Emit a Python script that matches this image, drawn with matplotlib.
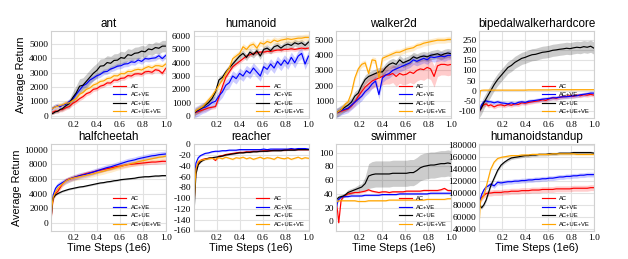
import matplotlib
matplotlib.use("Agg")
import matplotlib.pyplot as plt
import numpy as np

# ---------------- data ----------------
X = [0.0, 0.01, 0.02, 0.04, 0.06, 0.08, 0.10, 0.13, 0.16, 0.19, 0.22, 0.25, 0.28, 0.31,
     0.34, 0.37, 0.40, 0.43, 0.46, 0.49, 0.52, 0.55, 0.58, 0.61, 0.64, 0.67, 0.70, 0.73,
     0.76, 0.79, 0.82, 0.85, 0.88, 0.91, 0.94, 0.97, 1.00]

LABELS = ["AC", "AC+VE", "AC+UE", "AC+UE+VE"]
TITLES = ["ant", "humanoid", "walker2d", "bipedalwalkerhardcore",
          "halfcheetah", "reacher", "swimmer", "humanoidstandup"]

# ant
ANT_AC = [200, 230, 240, 320, 310, 400, 410, 540, 630, 850, 980, 1180, 1320, 1530, 1620, 1830, 1880, 2050, 2120,
          2280, 2270, 2480, 2470, 2600, 2620, 2790, 2760, 2900, 2920, 2880, 3050, 3080, 3020, 3200, 3150, 2950, 3300]
ANT_VE = [380, 450, 540, 620, 680, 600, 720, 780, 980, 1120, 1480, 1780, 2080, 2220, 2480, 2620, 2780, 2870, 3050,
          3080, 3250, 3330, 3450, 3480, 3600, 3620, 3750, 3720, 3880, 3780, 3980, 3950, 4000, 4030, 4180, 3980, 4200]
ANT_UE = [100, 130, 160, 260, 300, 420, 480, 680, 830, 1250, 1580, 2050, 2120, 2400, 2680, 2950, 3150, 3450, 3480,
          3700, 3650, 3850, 3870, 4050, 4000, 4250, 4200, 4350, 4380, 4500, 4450, 4650, 4600, 4750, 4700, 4850, 4850]
ANT_UEVE = [450, 490, 510, 620, 640, 720, 740, 870, 880, 1050, 1180, 1480, 1620, 1830, 1930, 2130, 2220, 2380, 2420,
            2580, 2620, 2780, 2770, 2930, 2920, 3080, 3070, 3180, 3230, 3180, 3320, 3420, 3330, 3480, 3480, 3420, 3600]
ANT_SD = [150,
          200,
          [50, 50, 60, 80, 100, 120, 150, 200, 300, 400, 500, 520, 520, 520, 520, 500, 500, 500, 500, 480, 480, 460,
           460, 440, 440, 420, 420, 420, 420, 400, 400, 400, 400, 400, 400, 400, 400],
          200]

# humanoid
HUM_AC = [200, 230, 260, 320, 380, 450, 500, 600, 650, 700, 1400, 2200, 2900, 3300, 3700, 3900, 4100, 4300, 4500,
          4600, 4700, 4750, 4800, 4800, 4850, 4850, 4900, 4950, 4950, 5000, 5000, 5050, 5000, 5050, 5100, 5050, 5100]
HUM_VE = [200, 250, 300, 400, 500, 600, 650, 800, 1000, 1100, 1500, 1800, 2300, 2500, 3000, 2800, 3200, 3000, 3400,
          3200, 3600, 3300, 3000, 3700, 3500, 3900, 3600, 4100, 3800, 4200, 3900, 4400, 4000, 4500, 4700, 3900, 4500]
HUM_UE = [200, 250, 350, 450, 550, 650, 800, 1000, 1300, 1800, 2700, 2900, 3300, 3600, 3900, 4200, 4500, 4700, 4400,
          4800, 4600, 4900, 4500, 5000, 5100, 4900, 5200, 5300, 5100, 5300, 5400, 5300, 5500, 5400, 5500, 5300, 5550]
HUM_UEVE = [200, 300, 400, 500, 600, 700, 900, 1200, 1500, 1900, 2300, 2700, 3200, 3600, 4300, 4500, 4700, 5200,
            5000, 5300, 5400, 5100, 5500, 5400, 5600, 5500, 5700, 5600, 5700, 5750, 5800, 5750, 5800, 5850, 5850,
            5900, 5900]
HUM_SD = [150, 400, 250, 250]

# walker2d
WAL_AC = [200, 220, 250, 300, 350, 400, 450, 650, 900, 1300, 1600, 1900, 2100, 2300, 2400, 2500, 2600, 2700, 2700,
          2800, 2600, 2800, 2700, 2750, 2900, 2800, 3000, 3100, 3050, 3200, 3100, 2600, 3300, 3400, 3400, 3350, 3400]
WAL_VE = [200, 220, 250, 350, 400, 450, 500, 700, 900, 1100, 1300, 1600, 1800, 2100, 2300, 1400, 2500, 2700, 2800,
          3000, 3100, 3200, 3300, 3400, 3500, 3700, 3600, 3700, 3800, 3700, 3900, 3850, 3900, 3950, 3900, 4000, 4000]
WAL_UE = [200, 250, 300, 400, 500, 600, 700, 900, 1300, 1500, 2000, 2400, 2600, 2700, 2800, 2900, 2900, 3200, 3400,
          3500, 3400, 3700, 3500, 3600, 3700, 3900, 3800, 3900, 3950, 3900, 4000, 4050, 4100, 4000, 4100, 4150, 4100]
WAL_UEVE = [200, 250, 300, 400, 600, 800, 900, 1500, 2500, 3100, 3400, 3500, 2800, 3700, 3650, 2500, 3800, 3900,
            4000, 4100, 4200, 4200, 4300, 4400, 4450, 4500, 4650, 4700, 4800, 4850, 4900, 4950, 5000, 5000, 5000,
            5050, 5050]
WAL_SD = [[50, 50, 60, 80, 100, 120, 150, 200, 250, 300, 350, 400, 450, 500, 500, 550, 550, 600, 600, 600, 650, 650,
           650, 650, 700, 700, 700, 700, 700, 700, 700, 700, 700, 700, 700, 700, 700],
          300, 300, 200]

# bipedalwalkerhardcore
BIP_AC = [-100, -90, -80, -70, -65, -75, -70, -80, -72, -70, -75, -68, -72, -65, -68, -60, -62, -58, -55, -52, -50,
          -45, -48, -40, -35, -38, -32, -30, -28, -25, -28, -22, -25, -20, -22, -18, -22]
BIP_VE = [-100, -85, -70, -55, -50, -55, -55, -60, -55, -60, -62, -65, -60, -65, -58, -55, -58, -52, -50, -48, -45,
          -42, -40, -38, -35, -35, -32, -30, -30, -28, -25, -25, -20, -18, -15, -12, -12]
BIP_UE = [-100, -95, -85, -60, -40, -20, 0, 30, 55, 75, 95, 115, 125, 140, 150, 160, 165, 172, 178, 180, 185, 190,
          192, 195, 200, 202, 205, 207, 210, 208, 212, 215, 213, 218, 215, 220, 210]
BIP_UEVE = [-50, 0, 2, 3, 3, 3, 3, 3, 3, 3, 3, 3, 3, 3, 3, 3, 3, 4, 4, 4, 4, 4, 4, 4, 5, 5, 5, 5, 5, 5, 5, 5, 5, 5,
            5, 5, 5]
BIP_SD = [10, 10, 30, 3]

# halfcheetah
HC_AC = [0, 2000, 3300, 4000, 4300, 4800, 5300, 5800, 6000, 6150, 6300, 6450, 6600, 6750, 6850, 6950, 7100, 7200,
         7300, 7400, 7500, 7600, 7700, 7750, 7850, 7950, 8000, 8050, 8100, 8150, 8200, 8250, 8300, 8300, 8350, 8400,
         8400]
HC_VE = [0, 2500, 3800, 4700, 5100, 5300, 5500, 5750, 5950, 6150, 6300, 6450, 6550, 6650, 6800, 6950, 7100, 7250,
         7400, 7550, 7650, 7800, 7950, 8100, 8250, 8400, 8500, 8600, 8750, 8850, 8950, 9050, 9150, 9200, 9300, 9350,
         9400]
HC_UE = [0, 2500, 3400, 3800, 4000, 4150, 4300, 4450, 4600, 4700, 4800, 4900, 4950, 5050, 5150, 5250, 5350, 5450,
         5500, 5600, 5650, 5750, 5800, 5900, 5950, 6000, 6050, 6100, 6200, 6250, 6300, 6300, 6350, 6400, 6400, 6450,
         6450]
HC_UEVE = [0, 2300, 3500, 4200, 4700, 5000, 5300, 5700, 5950, 6100, 6200, 6300, 6400, 6500, 6600, 6700, 6850, 6950,
           7050, 7200, 7300, 7450, 7600, 7700, 7850, 7950, 8100, 8200, 8350, 8450, 8550, 8650, 8750, 8850, 8950,
           9000, 9100]
HC_SD = [300, 400, 100, 400]

# reacher
RE_AC = [-140, -80, -50, -35, -30, -28, -27, -26, -25, -30, -22, -21, -19, -18, -17, -16, -15, -15, -14, -14, -13,
         -13, -13, -12, -12, -12, -11, -11, -11, -11, -10, -10, -10, -10, -10, -10, -10]
RE_VE = [-120, -60, -35, -25, -21, -19, -17, -16, -14, -13, -13, -12, -12, -11, -11, -11, -10, -10, -10, -10, -10,
         -10, -10, -9, -10, -9, -9, -9, -9, -9, -9, -8, -9, -8, -8, -8, -9]
RE_UE = [-150, -95, -55, -38, -33, -30, -28, -26, -25, -24, -23, -22, -20, -19, -18, -17, -16, -16, -15, -15, -14,
         -14, -13, -13, -13, -12, -12, -12, -12, -11, -11, -11, -11, -10, -10, -10, -10]
RE_UEVE = [-140, -80, -45, -32, -30, -29, -28, -27, -26, -28, -25, -27, -24, -26, -28, -25, -26, -24, -27, -25, -28,
           -26, -24, -27, -25, -26, -28, -24, -26, -27, -25, -28, -26, -24, -27, -25, -26]
RE_SD = [1.5, 1.5, 1.0, 1.5]

# swimmer
SW_AC = [25, 15, -2, 30, 36, 38, 40, 41, 42, 42, 43, 44, 46, 44, 43, 42, 43, 43, 42, 43, 43, 43, 43, 44, 44, 44, 44,
         44, 45, 45, 45, 45, 45, 46, 48, 45, 45]
SW_VE = [20, 28, 32, 35, 36, 36, 36, 37, 37, 37, 37, 38, 38, 38, 38, 38, 39, 39, 39, 39, 39, 40, 40, 40, 40, 40, 40,
         40, 40, 40, 41, 41, 41, 41, 41, 41, 41]
SW_UE = [32, 33, 35, 36, 37, 39, 42, 44, 46, 48, 50, 55, 66, 68, 69, 69, 69, 69, 69, 70, 70, 70, 70, 70, 71, 71, 74,
         78, 80, 81, 82, 82, 83, 84, 84, 85, 84]
SW_UEVE = [28, 29, 30, 30, 30, 30, 30, 30, 30, 29, 29, 29, 30, 30, 30, 30, 30, 30, 31, 31, 31, 31, 31, 31, 31, 31,
           31, 31, 31, 32, 32, 32, 32, 32, 32, 33, 33]
SW_SD = [1.5, 1.0,
         [3, 3, 3, 3, 3, 3, 4, 4, 4, 5, 5, 10, 18, 19, 19, 19, 19, 19, 19, 19, 19, 19, 19, 19, 19, 19, 19, 19, 19,
          19, 19, 19, 19, 19, 19, 19, 19],
         1.0]

# humanoidstandup
HS_AC = [80000, 88000, 92000, 96000, 99000, 100000, 100000, 101000, 101000, 101000, 102000, 102000, 103000, 103000,
         103000, 104000, 104000, 104000, 105000, 105000, 105000, 106000, 106000, 106000, 106000, 107000, 107000,
         107000, 107000, 107000, 108000, 108000, 108000, 108000, 108000, 109000, 109000]
HS_VE = [75000, 90000, 97000, 105000, 110000, 112000, 115000, 112000, 118000, 117000, 118000, 119000, 119000,
         120000, 120000, 121000, 121000, 122000, 122000, 123000, 123000, 124000, 124000, 125000, 125000, 126000,
         127000, 127000, 128000, 128000, 129000, 129000, 130000, 130000, 131000, 131000, 131000]
HS_UE = [80000, 78000, 75000, 80000, 88000, 100000, 112000, 125000, 138000, 147000, 152000, 156000, 159000, 160000,
         161000, 162000, 163000, 163000, 164000, 164000, 165000, 165000, 165000, 166000, 166000, 166000, 167000,
         167000, 167000, 167000, 168000, 168000, 168000, 168000, 168000, 168000, 167000]
HS_UEVE = [50000, 85000, 90000, 95000, 110000, 125000, 140000, 152000, 158000, 160000, 161000, 162000, 163000,
           163000, 163000, 164000, 164000, 164000, 165000, 165000, 165000, 165000, 165000, 165000, 166000, 166000,
           166000, 166000, 166000, 166000, 166000, 165000, 165000, 165000, 165000, 165000, 165000]
HS_SD = [5000, 4000, 2500, 2000]

SERIES = [
    ([ANT_AC, ANT_VE, ANT_UE, ANT_UEVE], ANT_SD),
    ([HUM_AC, HUM_VE, HUM_UE, HUM_UEVE], HUM_SD),
    ([WAL_AC, WAL_VE, WAL_UE, WAL_UEVE], WAL_SD),
    ([BIP_AC, BIP_VE, BIP_UE, BIP_UEVE], BIP_SD),
    ([HC_AC, HC_VE, HC_UE, HC_UEVE], HC_SD),
    ([RE_AC, RE_VE, RE_UE, RE_UEVE], RE_SD),
    ([SW_AC, SW_VE, SW_UE, SW_UEVE], SW_SD),
    ([HS_AC, HS_VE, HS_UE, HS_UEVE], HS_SD),
]

YTICKS = [
    [0, 1000, 2000, 3000, 4000, 5000],
    [0, 1000, 2000, 3000, 4000, 5000, 6000],
    [0, 1000, 2000, 3000, 4000, 5000],
    [-100, -50, 0, 50, 100, 150, 200, 250],
    [0, 2000, 4000, 6000, 8000, 10000],
    [-160, -140, -120, -100, -80, -60, -40, -20, 0],
    [0, 20, 40, 60, 80, 100],
    [40000, 60000, 80000, 100000, 120000, 140000, 160000, 180000],
]
XTICKS = [0.2, 0.4, 0.6, 0.8, 1.0]

# ---------------- style ----------------
YLIMS = [(-200, 5900), (-190, 6380), (-170, 5600), (-137, 295),
         (-1100, 10800), (-161, 1), (-14, 113), (36000, 183000)]
COLORS = ["#ff0000", "#0000ff", "#000000", "#ffa500"]
SANS = "Liberation Sans"
SERIF = "Liberation Serif"

plt.rcParams["axes.edgecolor"] = "#d0d0d0"
plt.rcParams["axes.linewidth"] = 0.8

fig, axes = plt.subplots(2, 4, figsize=(6.28, 2.59), dpi=100)
fig.subplots_adjust(left=0.081, right=0.946, top=0.880, bottom=0.108, wspace=0.243, hspace=0.29)

x = np.array(X)
for i, ax in enumerate(axes.flat):
    ys, sds = SERIES[i]
    for y, sd, c, lab in zip(ys, sds, COLORS, LABELS):
        y = np.array(y, dtype=float)
        sd = np.array(sd, dtype=float)
        ax.fill_between(x, y - sd, y + sd, color=c, alpha=0.2, lw=0)
        ax.plot(x, y, color=c, lw=0.85, label=lab)
    ax.set_xlim(0, 1.0)
    ax.set_ylim(*YLIMS[i])
    ax.set_xticks(XTICKS)
    ax.set_yticks(YTICKS[i])
    ax.set_xticklabels([f"{t:.1f}" for t in XTICKS], fontfamily=SERIF, fontsize=6.8)
    ax.set_yticklabels([str(t) for t in YTICKS[i]], fontfamily=SERIF, fontsize=6.8)
    ax.tick_params(length=0, pad=2)
    ax.grid(True, color="#e2e2e2", lw=0.8)
    ax.set_axisbelow(True)
    ax.set_title(TITLES[i], fontfamily=SANS, fontsize=8.4, pad=3)
    if i % 4 == 0:
        ax.set_ylabel("Average Return", fontfamily=SANS, fontsize=7.8, labelpad=2)
    if i >= 4:
        ax.set_xlabel("Time Steps (1e6)", fontfamily=SANS, fontsize=7.8, labelpad=1)
    ax.legend(loc="lower right", frameon=False, prop={"family": SANS, "size": 4.2},
              handlelength=2.2, labelspacing=0.6, borderaxespad=0.3, handletextpad=0.8)

fig.savefig("out.png", dpi=100)
